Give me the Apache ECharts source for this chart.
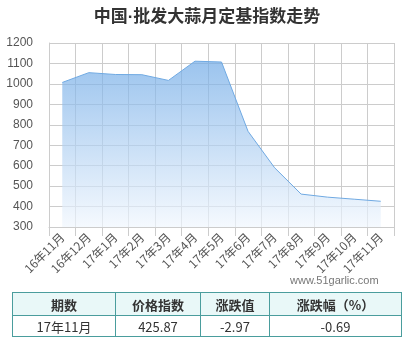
<!DOCTYPE html>
<html><head><meta charset="utf-8">
<script src="https://cdn.jsdelivr.net/npm/echarts@6/dist/echarts.min.js"></script>
<style>
html,body{margin:0;padding:0;background:#fff;}
#c{position:absolute;left:0;top:0;width:414px;height:340px;}
#t{position:absolute;left:12px;top:292px;width:389px;border-collapse:collapse;font-family:"Noto Sans CJK SC","Noto Sans",sans-serif;font-size:13px;color:#333;table-layout:fixed;}
#t td,#t th{border:1.5px solid #4a9d9d;text-align:center;padding:0;}
#t th{background:#e9f8f8;height:22px;font-weight:bold;}
#t td{height:20px;}
</style></head>
<body>
<div id="c"></div>
<table id="t"><colgroup><col style="width:103px"><col style="width:85px"><col style="width:69px"><col style="width:132px"></colgroup>
<thead><tr id="hr"></tr></thead><tbody><tr id="br"></tr></tbody></table>
<script>
var titleText = "中国·批发大蒜月定基指数走势";
var categories = ["16年11月","16年12月","17年1月","17年2月","17年3月","17年4月","17年5月","17年6月","17年7月","17年8月","17年9月","17年10月","17年11月"];
var indexValues = [1007, 1055, 1046, 1045, 1017, 1111, 1107, 768, 590, 461, 446, 436, 425.87];
var tableHeaders = ["期数","价格指数","涨跌值","涨跌幅（%）"];
var tableRow = ["17年11月","425.87","-2.97","-0.69"];
var watermark = "www.51garlic.com";

var hr = document.getElementById('hr'), br = document.getElementById('br');
tableHeaders.forEach(function(h){var th=document.createElement('th');th.textContent=h;hr.appendChild(th);});
tableRow.forEach(function(v){var td=document.createElement('td');td.textContent=v;br.appendChild(td);});

var chart = echarts.init(document.getElementById('c'), null, {renderer:'canvas'});
chart.setOption({
  animation:false,
  title:{text:titleText,left:'center',top:4,textStyle:{fontFamily:'"Liberation Sans","Noto Sans CJK SC"',fontSize:17,fontWeight:'bold',color:'#333'}},
  graphic:[{type:'text',left:290,top:275,style:{text:watermark,fill:'#777',font:'11px "Liberation Sans", sans-serif'}}],
  grid:{left:49,right:20,top:43,bottom:113},
  xAxis:{type:'category',data:categories,boundaryGap:true,
    axisLine:{show:true,lineStyle:{color:'#ccc'}},
    axisTick:{show:true,length:9,interval:0,lineStyle:{color:'#ccc'}},
    splitLine:{show:true,interval:0,lineStyle:{color:'#ccc'}},
    axisLabel:{interval:0,rotate:45,margin:8,color:'#555',fontFamily:'"Noto Sans CJK SC"',fontSize:12}},
  yAxis:{type:'value',min:300,max:1200,interval:100,
    axisLine:{show:true,lineStyle:{color:'#ccc'}},
    axisTick:{show:false},
    splitLine:{show:true,lineStyle:{color:'#ccc'}},
    axisLabel:{color:'#555',fontFamily:'"Liberation Sans"',fontSize:12,margin:16,formatter:function(v){return String(v);}}},
  series:[{type:'line',data:indexValues,showSymbol:false,symbol:'none',
    lineStyle:{color:'#6fa9e2',width:1},
    areaStyle:{color:new echarts.graphic.LinearGradient(0,0,0,1,[{offset:0,color:'rgba(112,170,230,1)'},{offset:1,color:'rgba(240,246,253,1)'}]),origin:'start'}}]
});
</script>
</body></html>
